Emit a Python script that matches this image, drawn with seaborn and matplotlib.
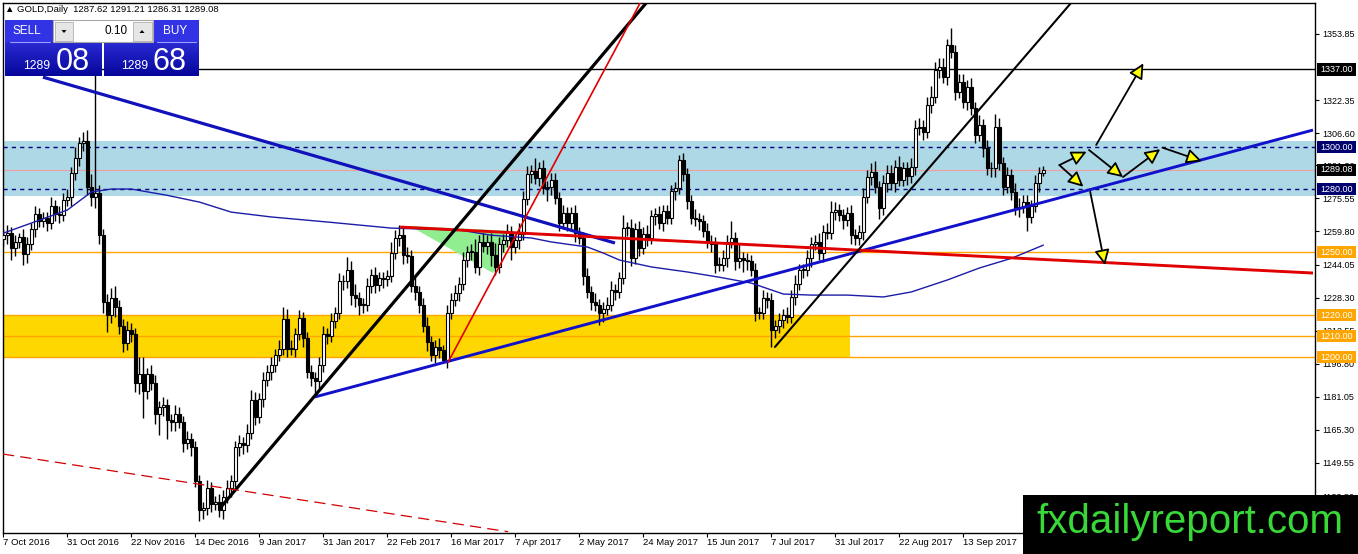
import numpy as np
import pandas as pd
import matplotlib
matplotlib.use("Agg")
import matplotlib.pyplot as plt
import matplotlib.transforms as mtransforms
from matplotlib.patches import Rectangle, Polygon, FancyArrowPatch
from matplotlib.colors import LinearSegmentedColormap
import seaborn as sns

# ---------------- data ----------------
close = [
    1258, 1259, 1252, 1255, 1257, 1249, 1254, 1261, 1268, 1265,
    1266, 1264, 1272, 1268, 1267.6, 1275, 1276, 1287.5, 1295, 1302,
    1303, 1281, 1276, 1278, 1258, 1226, 1220, 1228, 1224, 1215,
    1206.5, 1213, 1211, 1187.5, 1192, 1184, 1192, 1187.5, 1173, 1176,
    1177, 1170, 1169, 1173, 1169, 1159, 1161, 1157, 1141, 1127,
    1128, 1137.5, 1130, 1131, 1127, 1133.5, 1137.5, 1141, 1157, 1159,
    1158, 1164, 1179.5, 1171.6, 1180, 1189, 1193, 1196, 1201, 1204,
    1218, 1204, 1204, 1211, 1218.6, 1209, 1193, 1190, 1188.5, 1196,
    1211, 1210, 1217, 1221, 1236, 1236, 1241.6, 1229.7, 1228, 1225,
    1225, 1233.7, 1239, 1234.5, 1237.7, 1237, 1238.5, 1249.6, 1256.7, 1258.3,
    1248.4, 1248, 1234, 1231, 1225, 1215, 1207, 1201, 1205, 1203.5,
    1198.8, 1221, 1227.3, 1230.5, 1235, 1246, 1250, 1250, 1243, 1255,
    1253, 1255, 1248.4, 1243, 1254, 1255.6, 1259.5, 1252.4, 1255.6, 1258.7,
    1275.3, 1287, 1288.6, 1285.4, 1290, 1280.5, 1281, 1284.5, 1275.8, 1263.8,
    1268.6, 1263.8, 1268.6, 1259, 1256.7, 1238.4, 1231, 1226.3, 1224.8, 1220.8,
    1223, 1224.8, 1232, 1231, 1237.7, 1261.5, 1261.5, 1247.3, 1260.8, 1252,
    1258.7, 1256.7, 1267, 1268, 1264, 1269.4, 1266.2, 1279, 1280.5, 1294,
    1287, 1274.3, 1266.3, 1265.5, 1264.7, 1260, 1255, 1254, 1243.8, 1243.8,
    1247, 1255, 1256.7, 1245.6, 1247, 1246.4, 1245.6, 1241.6, 1221, 1221,
    1228, 1227.3, 1213, 1214.6, 1217.8, 1220, 1219, 1228.7, 1235, 1241.4,
    1241.4, 1247, 1254, 1255, 1249.4, 1259.7, 1259, 1269.2, 1270, 1267.6,
    1265.2, 1268.5, 1258, 1256.5, 1259.7, 1276.3, 1285.9, 1288.2, 1281, 1270.8,
    1282.7, 1287.5, 1282.7, 1290.6, 1284.3, 1289.8, 1286, 1290.6, 1308.9, 1309.7,
    1307.3, 1320, 1324, 1336.7, 1338.2, 1333.5, 1348.6, 1345.4, 1326.3, 1331,
    1321.6, 1328.7, 1318.4, 1305.7, 1310.5, 1299.4, 1289.8, 1289.8, 1309.7, 1292.2,
    1281, 1286.7, 1278.7, 1270.8, 1271.6, 1274, 1266.8, 1272, 1282.7, 1287.62,
    1289.08,
]
first_open = 1256.0

wick_up = [
    3, 4, 3, 3, 2, 4, 3, 3, 4, 3,
    3, 3, 4, 3, 4, 3, 4, 3, 5, 3,
    4, 5, 6, 59, 4, 3, 4, 5, 6, 3,
    3, 4, 3, 3, 8, 8, 3, 4, 4, 3,
    4, 3, 3, 4, 3, 3, 4, 3, 3, 3,
    3, 4, 3, 3, 4, 3, 4, 3, 3, 4,
    3, 4, 5, 4, 3, 4, 3, 4, 3, 4,
    6, 5, 4, 3, 4, 3, 3, 3, 3, 4,
    4, 3, 4, 3, 4, 3, 6, 4, 5, 3,
    3, 4, 3, 4, 3, 3, 3, 5, 4, 4.7,
    3, 4, 3, 4, 3, 3, 4, 3, 3, 4,
    2, 4, 3, 4, 3, 4, 3, 4, 6, 3,
    4, 3, 4, 6, 3, 3, 4, 3, 3, 5,
    4, 4, 3, 6.4, 3, 4, 3, 3, 3, 3,
    4, 3, 3, 4, 3, 3, 4, 3, 4, 3,
    3, 4, 4, 3, 3, 6, 3, 4, 3, 4,
    3, 4, 3, 3, 4, 3, 3, 3, 3, 2.4,
    3, 3, 3, 4, 3, 3, 4, 3, 3, 4,
    4, 3, 8, 3, 7, 3, 3, 3, 3, 3,
    4, 3, 3, 3, 3, 3, 4, 3, 4, 3,
    3, 4, 3, 3, 4, 3, 4, 5, 4, 3,
    3, 3, 4, 3, 3, 4, 3, 4, 5, 3,
    4, 4, 4, 3, 5, 3, 3, 4, 4, 4,
    3, 4, 5, 4, 4, 4, 3, 8, 3, 4,
    4, 3, 4, 3, 5, 3, 4, 3, 6, 4,
    3, 4, 3, 4, 4, 3, 3, 3, 4, 3,
    2.13,
]
wick_down = [
    3, 4, 6, 4, 3, 5, 4, 3, 4, 3,
    3, 4, 3, 3, 4, 3, 3, 4, 3, 4,
    4, 4, 4, 5, 4, 5, 8, 4, 5, 4,
    4, 3, 4, 4, 5, 13, 4, 3, 5, 10,
    4, 9, 4, 4, 3, 4, 3, 4, 3, 5,
    4, 3, 4, 3, 3, 4, 3, 4, 3, 4,
    4, 3, 3, 4, 3, 4, 3, 4, 3, 3,
    3, 4, 3, 4, 3, 4, 3, 4, 7.5, 4,
    3, 4, 3, 3, 3, 4, 3, 5, 4, 5,
    4, 3, 3, 4, 3, 4, 3, 3, 3, 4,
    4, 3, 3, 4, 4, 3, 4, 3, 4, 4,
    1, 4, 3, 3, 4, 3, 3, 4, 3, 4,
    3, 4, 5, 4, 3, 4, 3, 6, 3, 4,
    3, 3, 4, 3, 4, 3, 6, 4, 3, 4,
    3, 4, 3, 4, 3, 4, 3, 4, 3, 5.6,
    4, 3, 3, 4, 3, 3, 4, 4, 3, 4,
    3, 4, 3, 4, 3, 4, 3, 3, 4, 3,
    3, 4, 3, 3, 4, 3, 3, 4, 4, 3,
    3, 4, 3, 4, 3, 6, 4, 3, 4, 3,
    3, 4, 8, 4, 3, 4, 3, 3, 4, 3,
    4, 3, 4, 3, 3, 4, 3, 3, 4, 3,
    4, 3, 4, 3, 3, 4, 3, 4, 3, 5,
    3, 4, 3, 4, 3, 3, 4, 3, 4, 3,
    4, 3, 4, 3, 4, 3, 4, 3, 4, 3,
    3, 4, 3, 4, 3, 4, 3, 4, 4, 3,
    4, 3, 4, 3, 4, 3, 7, 3, 3, 4,
    1.31,
]

date_labels = ["7 Oct 2016", "31 Oct 2016", "22 Nov 2016", "14 Dec 2016", "9 Jan 2017",
               "31 Jan 2017", "22 Feb 2017", "16 Mar 2017", "7 Apr 2017", "2 May 2017",
               "24 May 2017", "15 Jun 2017", "7 Jul 2017", "31 Jul 2017", "22 Aug 2017",
               "13 Sep 2017"]
date_label_bars = [0, 16, 32, 48, 64, 80, 96, 112, 128, 144, 160, 176, 192, 208, 224, 240]

price_ticks = [1133.80, 1149.55, 1165.30, 1181.05, 1196.80, 1212.55, 1228.30, 1244.05,
               1259.80, 1275.55, 1291.30, 1306.60, 1322.35, 1353.85]

# moving average (thin navy curve)
ma_bar = [0, 7, 16, 22, 27, 32, 41, 49, 57, 67, 81, 97, 114, 122, 132, 137, 146, 150,
          154, 162, 171, 179, 187, 195, 202, 211, 220, 227, 236, 244, 252, 260]
ma_price = [1259, 1263.8, 1270, 1278.6, 1280, 1280, 1277, 1273.8, 1269, 1266.7, 1264.3,
            1261.4, 1260.5, 1258, 1256.7, 1254.8, 1252.4, 1249.5, 1246.2, 1242.9, 1240.5,
            1238, 1235.2, 1230, 1229.5, 1229.5, 1228.6, 1231, 1236.7, 1242.4, 1247, 1253.3]

# zones and levels
blue_zone = (1276.8, 1303.0)
gold_zone = (1199.4, 1220.0)
gold_zone_end_bar = 211.7
dashed_levels = [1300.0, 1280.0]
orange_levels = [1250.0, 1220.0, 1210.0, 1200.0]
last_price = 1289.08
level_1337 = 1337.0
level_1337_start = 23.4

# trend lines: ([bar0, bar1], [price0, price1])
blue_down = ([9.9, 152.9], [1333.3, 1254.3])
blue_up = ([77.9, 327.4], [1181.0, 1308.1])
black_thick = ([54.2, 160.7], [1128.1, 1368.6])
red_thin = ([111.2, 159.2], [1197.6, 1368.6])
black_thin = ([192.9, 266.9], [1204.8, 1368.6])
red_thick = ([99.2, 327.4], [1261.9, 1240.0])
red_dash = ([-0.1, 126.2], [1153.8, 1116.8])
green_triangle = [(101.6, 1262.4), (127.9, 1260.0), (122.4, 1240.0)]

# projection arrows (bar0, price0, bar1, price1)
arrows = [(264.0, 1291.4, 270.8, 1297.8),
          (264.0, 1291.4, 270.0, 1281.1),
          (273.2, 1301.0, 285.0, 1339.9),
          (271.4, 1298.6, 279.9, 1285.7),
          (279.9, 1285.7, 289.2, 1299.0),
          (289.8, 1299.7, 299.6, 1293.3),
          (271.7, 1278.7, 275.4, 1243.8)]

right_labels = [(1337.00, "black"), (1300.00, "#00006e"), (1289.08, "black"),
                (1280.00, "#00006e"), (1250.00, "#ffa500"), (1220.00, "#ffa500"),
                (1210.00, "#ffa500"), (1200.00, "#ffa500")]

# ---------------- figure ----------------
sns.set_style("white")
plt.rcParams['font.family'] = ['Liberation Sans', 'DejaVu Sans']

W, H = 1358, 554
fig = plt.figure(figsize=(W / 100, H / 100), dpi=100)
fig.patch.set_facecolor("white")
AX_L, AX_R, AX_T, AX_B = 2.7, 1315.0, 3.0, 533.0
ax = fig.add_axes([AX_L / W, 1 - AX_B / H, (AX_R - AX_L) / W, (AX_B - AX_T) / H])
ax.set_facecolor("white")

df = pd.DataFrame({"close": close})
df["bar"] = np.arange(len(df))
df["open"] = [first_open] + close[:-1]
df["high"] = np.maximum(df["open"], df["close"]) + np.array(wick_up)
df["low"] = np.minimum(df["open"], df["close"]) - np.array(wick_down)

# zones
ax.axhspan(*blue_zone, color="#add8e6", zorder=0, lw=0)
ax.add_patch(Rectangle((-5, gold_zone[0]), gold_zone_end_bar + 5, gold_zone[1] - gold_zone[0],
                       fc="#ffd700", ec="none", zorder=0.5))
for lv in dashed_levels:
    ax.axhline(lv, color="#000080", lw=1, ls=(0, (3, 3)), zorder=1)
for lv in orange_levels:
    ax.axhline(lv, color="#ffa500", lw=1, zorder=1)
ax.axhline(last_price, color="#f0a0a0", lw=0.8, zorder=1)
ax.plot([level_1337_start, 400], [level_1337, level_1337], color="black", lw=1, zorder=1.2)

ax.add_patch(Polygon(green_triangle, closed=True, fc="#90ee90", ec="none", zorder=2))

# candles
up = df["close"] >= df["open"]
ax.vlines(df["bar"], df["low"], df["high"], color="black", lw=1, zorder=3)
body = np.maximum((df["close"] - df["open"]).abs(), 0.35)
ax.bar(df["bar"], body, bottom=np.minimum(df["open"], df["close"]), width=0.75,
       color=np.where(up, "white", "black"), edgecolor="black", linewidth=0.8, zorder=4)

# moving average
sns.lineplot(x=ma_bar, y=ma_price, ax=ax, color="#1c1ca8", lw=1, zorder=5)

# trend lines
ax.plot(*blue_down, color="#1111bb", lw=2.3, zorder=6, solid_capstyle="butt")
ax.plot(*blue_up, color="#1111cc", lw=2.1, zorder=6, solid_capstyle="butt")
ax.plot(*red_thick, color="#e00000", lw=2.1, zorder=6, solid_capstyle="butt")
ax.plot(*black_thick, color="black", lw=2.3, zorder=6, solid_capstyle="butt")
ax.plot(*red_thin, color="#e00000", lw=1.2, zorder=6)
ax.plot(*black_thin, color="black", lw=1.5, zorder=6)
ax.plot(*red_dash, color="#d00000", lw=0.9, ls=(0, (9, 5)), zorder=6)

for b0, p0, b1, p1 in arrows:
    ax.add_patch(FancyArrowPatch((b0, p0), (b1, p1),
                                 arrowstyle="-|>,head_length=0.65,head_width=0.32",
                                 mutation_scale=14, fc="#ffff00", ec="black", lw=1.3,
                                 shrinkA=0, shrinkB=0, zorder=7))

# axes
ax.set_xlim(-0.16, 327.9)
ax.set_ylim(1116.2, 1368.6)
for s in ax.spines.values():
    s.set_visible(True)
    s.set_color("black")
    s.set_linewidth(1)
ax.yaxis.tick_right()
ax.set_yticks(price_ticks)
ax.set_yticklabels([f"{v:.2f}" for v in price_ticks])
ax.tick_params(axis="y", direction="out", length=3, width=0.8, pad=2.5, labelsize=6.5,
               colors="black", left=False, right=True)
ax.set_xticks(date_label_bars)
ax.set_xticklabels(date_labels, ha="left")
ax.tick_params(axis="x", direction="out", length=3, width=0.8, pad=0.8, labelsize=6.8,
               colors="black", bottom=True)
ax.set_xlabel("")
ax.set_ylabel("")
ax.grid(False)

axw = AX_R - AX_L
trans = mtransforms.blended_transform_factory(ax.transAxes, ax.transData)
bx0 = (1317 - AX_L) / axw
bw = 39 / axw
hh = 6.3 / 2.1
for v, fc in right_labels:
    ax.add_patch(Rectangle((bx0, v - hh), bw, 2 * hh, transform=trans, fc=fc, ec="none",
                           clip_on=False, zorder=20))
    ax.text(bx0 + 3 / axw, v, f"{v:.2f}", transform=trans, color="white", fontsize=6.5,
            va="center", ha="left", clip_on=False, zorder=21)

# ---------------- overlay (header, trade panel, watermark) ----------------
ov = fig.add_axes([0, 0, 1, 1])
ov.patch.set_alpha(0)
ov.axis("off")

ov.text(5, 10, "\u25b2 GOLD,Daily  1287.62 1291.21 1286.31 1289.08", fontsize=6.8,
        va="center", ha="left", color="black")

grad = LinearSegmentedColormap.from_list("g", ["#2a2ad4", "#06069a"])
for x0, x1 in [(5, 102), (104, 199)]:
    ov.add_patch(Rectangle((x0, 20), x1 - x0, 22, fc="#3333e6", ec="none", zorder=1))
    ov.imshow(np.linspace(0, 1, 60).reshape(-1, 1), extent=(x0, x1, 76, 42), cmap=grad,
              aspect="auto", zorder=1)
ov.plot([10, 50], [41.5, 41.5], color="#9a9aff", lw=0.8, zorder=2)
ov.plot([157, 196], [41.5, 41.5], color="#9a9aff", lw=0.8, zorder=2)
ov.add_patch(Rectangle((53, 20), 100, 22, fc="white", ec="#a8a8a8", lw=0.8, zorder=3))
ov.add_patch(Rectangle((54.5, 21.5), 18.5, 19, fc="#e6e6e6", ec="#b0b0b0", lw=0.6, zorder=4))
ov.add_patch(Rectangle((133, 21.5), 19, 19, fc="#e6e6e6", ec="#b0b0b0", lw=0.6, zorder=4))
ov.add_patch(Polygon([(61.5, 30), (66.5, 30), (64, 33)], fc="black", ec="none", zorder=5))
ov.add_patch(Polygon([(139.5, 33), (144.5, 33), (142, 30)], fc="black", ec="none", zorder=5))
ov.text(128, 31, "0.10", fontsize=8.5, ha="right", va="center", color="black", zorder=6)
ov.text(27, 31, "SELL", fontsize=8.5, ha="center", va="center", color="white", zorder=6)
ov.text(175, 31, "BUY", fontsize=8.5, ha="center", va="center", color="white", zorder=6)
ov.text(23, 69, "1289", fontsize=8.8, ha="left", va="baseline", color="white", zorder=6)
ov.text(56, 70, "08", fontsize=22, ha="left", va="baseline", color="white", zorder=6)
ov.text(121, 69, "1289", fontsize=8.8, ha="left", va="baseline", color="white", zorder=6)
ov.text(152, 70, "68", fontsize=22, ha="left", va="baseline", color="white", zorder=6)

ov.add_patch(Rectangle((1023, 495), W - 1023, H - 495, fc="black", ec="none", zorder=8))
ov.text(1190, 522, "fxdailyreport.com", fontsize=29, ha="center", va="center",
        color="#38d838", zorder=9)

ov.set_xlim(0, W)
ov.set_ylim(H, 0)

fig.savefig("out.png", dpi=100, facecolor="white")
